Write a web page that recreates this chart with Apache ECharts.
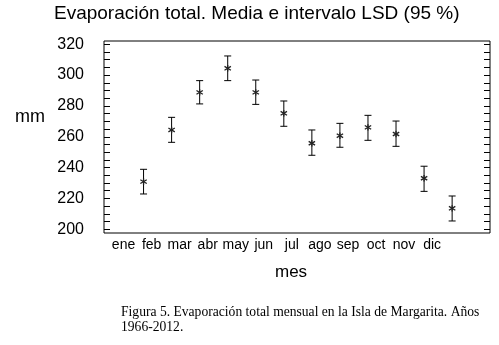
<!DOCTYPE html>
<html>
<head>
<meta charset="utf-8">
<script src="https://cdn.jsdelivr.net/npm/echarts@6/dist/echarts.min.js"></script>
<style>
  html, body { margin: 0; padding: 0; background: #fff; }
  #chart { width: 499px; height: 345px; }
</style>
</head>
<body>
<div id="chart"></div>
<script>
// monthly evaporation, mean and LSD (95 %) interval, mm
const months = ['ene', 'feb', 'mar', 'abr', 'may', 'jun', 'jul', 'ago', 'sep', 'oct', 'nov', 'dic'];
const means = [230.9, 264.4, 288.8, 304.4, 288.8, 275.2, 255.8, 260.7, 266.1, 261.8, 233.1, 213.6];
const lower = [222.9, 256.4, 281.3, 296.4, 281.0, 266.8, 248.0, 253.2, 257.7, 253.8, 224.6, 205.4];
const upper = [238.9, 272.6, 296.4, 312.4, 296.8, 283.2, 264.4, 268.7, 273.9, 270.2, 240.9, 221.6];
const yLabels = [200, 220, 240, 260, 280, 300, 320];
const yTicks = [200, 205, 210, 215, 220, 225, 230, 235, 240, 245, 250, 255, 260,
  265, 270, 275, 280, 285, 290, 295, 300, 305, 310, 315, 320];

const sans = 'Liberation Sans, Arial, sans-serif';
const serif = 'Liberation Serif, Times New Roman, serif';

const chart = echarts.init(document.getElementById('chart'));

function renderItem(params, api) {
  const x = api.value(0);
  const pm = api.coord([x, api.value(1)]);
  const pl = api.coord([x, api.value(2)]);
  const ph = api.coord([x, api.value(3)]);
  const cap = 3.5;
  const s = 3.2;
  const style = { stroke: '#000', lineWidth: 1 };
  const star = { stroke: '#222', lineWidth: 1.3 };
  return {
    type: 'group',
    children: [
      { type: 'line', shape: { x1: pl[0], y1: pl[1], x2: ph[0], y2: ph[1] }, style: style },
      { type: 'line', shape: { x1: pl[0] - cap, y1: pl[1], x2: pl[0] + cap, y2: pl[1] }, style: style },
      { type: 'line', shape: { x1: ph[0] - cap, y1: ph[1], x2: ph[0] + cap, y2: ph[1] }, style: style },
      { type: 'line', shape: { x1: pm[0], y1: pm[1] - s, x2: pm[0], y2: pm[1] + s }, style: star },
      { type: 'line', shape: { x1: pm[0] - s, y1: pm[1] - s * 0.6, x2: pm[0] + s, y2: pm[1] + s * 0.6 }, style: star },
      { type: 'line', shape: { x1: pm[0] - s, y1: pm[1] + s * 0.6, x2: pm[0] + s, y2: pm[1] - s * 0.6 }, style: star }
    ]
  };
}

const yAxisBase = {
  type: 'value',
  min: 197.6,
  max: 322.1,
  splitLine: { show: false },
  axisLine: { show: false, onZero: false },
  axisTick: {
    show: true,
    inside: true,
    length: 6,
    customValues: yTicks,
    lineStyle: { color: '#000' }
  }
};

chart.setOption({
  animation: false,
  backgroundColor: '#fff',
  title: [
    {
      text: 'Evaporación total. Media e intervalo LSD (95 %)',
      left: 54, top: 4, padding: 0,
      textStyle: { fontFamily: sans, fontSize: 19, fontWeight: 'normal', color: '#000' }
    },
    {
      text: 'mm',
      left: 15, top: 108, padding: 0,
      textStyle: { fontFamily: sans, fontSize: 18, fontWeight: 'normal', color: '#000' }
    },
    {
      text: 'mes',
      left: 275, top: 264, padding: 0,
      textStyle: { fontFamily: sans, fontSize: 17, fontWeight: 'normal', color: '#000' }
    },
    {
      text: 'Figura 5. Evaporación total mensual en la Isla de Margarita. Años\n1966-2012.',
      left: 121, top: 305, padding: 0,
      textStyle: { fontFamily: serif, fontSize: 13.6, lineHeight: 15, fontWeight: 'normal', color: '#000' }
    }
  ],
  grid: {
    left: 104, right: 9, top: 41, bottom: 112,
    show: true, borderColor: '#000', borderWidth: 1
  },
  xAxis: {
    type: 'value',
    min: -0.41,
    max: 13.35,
    splitLine: { show: false },
    axisLine: { show: false, onZero: false },
    axisTick: { show: false },
    axisLabel: {
      customValues: months.map((m, i) => i + 1),
      formatter: v => months[Math.round(v) - 1] || '',
      fontFamily: sans,
      fontSize: 14,
      color: '#000',
      margin: 5,
      padding: [0, 40, 0, 0]
    }
  },
  yAxis: [
    Object.assign({}, yAxisBase, {
      position: 'left',
      axisLabel: {
        customValues: yLabels,
        fontFamily: sans,
        fontSize: 16,
        color: '#000',
        margin: 20
      }
    }),
    Object.assign({}, yAxisBase, {
      position: 'right',
      axisLabel: { show: false }
    })
  ],
  series: [{
    type: 'custom',
    renderItem: renderItem,
    encode: { x: 0, y: [1, 2, 3] },
    data: months.map((m, i) => [i + 1, means[i], lower[i], upper[i]])
  }]
});
</script>
</body>
</html>
